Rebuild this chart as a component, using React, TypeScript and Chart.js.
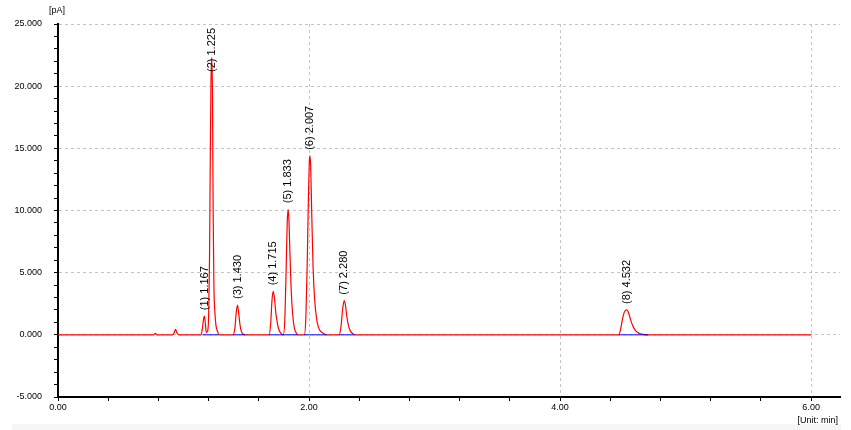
import React, { useEffect, useRef } from 'react';
import { Chart, registerables } from 'chart.js';

Chart.register(...registerables);

// Chromatogram trace (minutes, pA)
const times = [
  0, 0.76, 0.775, 0.79,
  0.91, 0.925, 0.936, 0.948, 0.965,
  1.140, 1.150, 1.160, 1.167, 1.174, 1.181,
  1.192, 1.200, 1.207, 1.213, 1.219, 1.225, 1.231, 1.236, 1.242, 1.250, 1.258, 1.270, 1.285,
  1.395, 1.410, 1.420, 1.430, 1.440, 1.450, 1.460, 1.475, 1.490,
  1.682, 1.695, 1.705, 1.715, 1.725, 1.735, 1.748, 1.762, 1.778, 1.790,
  1.795, 1.808, 1.818, 1.826, 1.833, 1.840, 1.848, 1.858, 1.870, 1.882, 1.895, 1.910,
  1.962, 1.975, 1.985, 1.995, 2.002, 2.007, 2.013, 2.022, 2.032, 2.045, 2.060, 2.075, 2.095, 2.120, 2.140,
  2.240, 2.255, 2.268, 2.280, 2.290, 2.302, 2.315, 2.330, 2.350, 2.365,
  4.468, 4.485, 4.500, 4.515, 4.532, 4.548, 4.565, 4.585, 4.605, 4.630, 4.660, 4.700,
  6.0,
];
const signal = [
  0, 0, 0.12, 0,
  0, 0.15, 0.45, 0.15, 0,
  0, 0.5, 1.3, 1.5, 0.9, 0.2,
  0.3, 1.5, 6.0, 14.0, 20.5, 22.3, 19.0, 10.0, 4.0, 1.8, 0.8, 0.3, 0,
  0, 0.6, 1.8, 2.4, 1.7, 0.8, 0.3, 0.05, 0,
  0, 1.0, 2.8, 3.5, 2.9, 1.8, 0.9, 0.35, 0.1, 0,
  0, 1.5, 5.5, 9.0, 10.1, 9.2, 6.5, 3.5, 1.6, 0.6, 0.2, 0,
  0, 1.5, 5.5, 11.0, 13.9, 14.4, 13.6, 9.5, 5.5, 2.8, 1.3, 0.6, 0.25, 0.08, 0,
  0, 0.7, 2.1, 2.75, 2.4, 1.4, 0.7, 0.3, 0.08, 0,
  0, 0.6, 1.4, 1.9, 2.0, 1.7, 1.1, 0.6, 0.3, 0.12, 0.04, 0,
  0,
];

// Integration baselines (blue)
const baseStarts = [1.15, 1.395, 1.68, 1.96, 2.24, 4.468];
const baseEnds = [1.28, 1.49, 1.91, 2.14, 2.365, 4.70];

// Peak annotations
const peakTimes = [1.167, 1.225, 1.430, 1.715, 1.833, 2.007, 2.280, 4.532];
const peakHeights = [1.5, 22.3, 2.4, 3.5, 10.1, 14.4, 2.75, 2.0];

const yUnit = '[pA]';
const xUnit = '[Unit: min]';

const FONT = "'Liberation Sans', Arial, sans-serif";

const isMult = (v: number, m: number) => Math.abs(v / m - Math.round(v / m)) < 1e-6;

const annotPlugin = {
  id: 'annot',
  beforeDraw(chart: any) {
    const ctx = chart.ctx;
    ctx.save();
    ctx.fillStyle = '#f5f5f5';
    ctx.fillRect(12, 424, 829, 6);
    ctx.restore();
  },
  afterDatasetsDraw(chart: any) {
    const ctx = chart.ctx;
    const xs = chart.scales.x;
    const ys = chart.scales.y;
    const area = chart.chartArea;
    ctx.save();
    ctx.font = `11px ${FONT}`;
    ctx.fillStyle = '#000';
    peakTimes.forEach((t, i) => {
      const text = `(${i + 1}) ${t.toFixed(3)}`;
      const x = xs.getPixelForValue(t);
      const yTop = ys.getPixelForValue(peakHeights[i]);
      const w = ctx.measureText(text).width;
      let bottom = yTop - 6;
      if (bottom - w < area.top + 4) bottom = area.top + 4 + w;
      ctx.save();
      ctx.translate(x, bottom);
      ctx.rotate(-Math.PI / 2);
      ctx.textAlign = 'left';
      ctx.textBaseline = 'middle';
      ctx.fillText(text, 0, 0);
      ctx.restore();
    });
    ctx.font = `9px ${FONT}`;
    ctx.textBaseline = 'middle';
    ctx.textAlign = 'center';
    ctx.fillText(yUnit, 57, 11);
    ctx.textAlign = 'right';
    ctx.fillText(xUnit, 838, 421);
    ctx.restore();
  },
};

export default function App() {
  const ref = useRef<HTMLCanvasElement>(null);
  useEffect(() => {
    if (!ref.current) return;
    const trace = times.map((t, i) => ({ x: t, y: signal[i] }));
    const base: any[] = [];
    baseStarts.forEach((s, i) => {
      base.push({ x: s, y: 0 }, { x: baseEnds[i], y: 0 }, { x: baseEnds[i] + 0.001, y: null });
    });
    const chart = new Chart(ref.current, {
      type: 'line',
      data: {
        datasets: [
          {
            data: base,
            borderColor: '#0000ff',
            borderWidth: 1,
            pointRadius: 0,
            spanGaps: false,
            order: 0,
          },
          {
            data: trace,
            borderColor: '#ff0000',
            borderWidth: 1.2,
            pointRadius: 0,
            cubicInterpolationMode: 'monotone',
            order: 1,
          },
        ],
      },
      options: {
        animation: false,
        responsive: false,
        maintainAspectRatio: false,
        events: [],
        layout: { padding: { left: 0, top: 24, right: 11, bottom: 0 } },
        plugins: { legend: { display: false }, tooltip: { enabled: false } },
        scales: {
          x: {
            type: 'linear',
            min: 0,
            max: 6.23,
            afterFit: (s: any) => { s.height = 33; },
            ticks: {
              stepSize: 0.4,
              includeBounds: false,
              autoSkip: false,
              maxRotation: 0,
              padding: 1,
              color: '#000',
              font: { family: FONT, size: 9 },
              callback: (v: any) => (isMult(Number(v), 2) ? Number(v).toFixed(2) : ''),
            },
            grid: {
              color: (c: any) => (c.tick && isMult(c.tick.value, 2) ? '#c4c4c4' : 'rgba(0,0,0,0)'),
              tickColor: '#000',
              tickLength: 4,
              lineWidth: 1,
            },
            border: { color: '#000', width: 2, dash: [3, 3] },
          },
          y: {
            type: 'linear',
            min: -5,
            max: 25,
            afterFit: (s: any) => { s.width = 58; },
            ticks: {
              stepSize: 1,
              includeBounds: false,
              autoSkip: false,
              padding: 12,
              color: '#000',
              font: { family: FONT, size: 9 },
              callback: (v: any) => (isMult(Number(v), 5) ? Number(v).toFixed(3) : ''),
            },
            grid: {
              color: (c: any) => (c.tick && isMult(c.tick.value, 5) ? '#c4c4c4' : 'rgba(0,0,0,0)'),
              tickColor: '#000',
              tickLength: 4,
              lineWidth: 1,
            },
            border: { color: '#000', width: 2, dash: [3, 3] },
          },
        },
      },
      plugins: [annotPlugin],
    } as any);
    return () => chart.destroy();
  }, []);
  return (
    <div style={{ position: 'fixed', left: 0, top: 0, width: 851, height: 430, background: '#fff' }}>
      <canvas ref={ref} width={851} height={430} style={{ display: 'block' }} />
    </div>
  );
}
